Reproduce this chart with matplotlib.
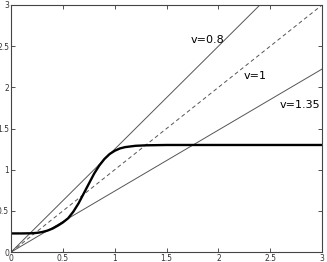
import matplotlib
matplotlib.use("Agg")
import matplotlib.pyplot as plt
import numpy as np

# speed lines y = x / v
speeds = [0.8, 1.0, 1.35]
speed_labels = ["v=0.8", "v=1", "v=1.35"]
label_x = [1.73, 2.24, 2.59]
label_y = [2.58, 2.14, 1.78]

# thick response curve
curve_x = [0.0, 0.1, 0.2, 0.25, 0.3, 0.35, 0.4, 0.45, 0.5, 0.55, 0.6, 0.65,
           0.7, 0.75, 0.8, 0.85, 0.9, 0.95, 1.0, 1.05, 1.1, 1.2, 1.3, 1.5,
           2.0, 3.0]
curve_y = [0.226, 0.226, 0.228, 0.233, 0.243, 0.26, 0.285, 0.32, 0.36, 0.41,
           0.49, 0.59, 0.71, 0.83, 0.95, 1.05, 1.13, 1.19, 1.23, 1.258, 1.274,
           1.29, 1.296, 1.3, 1.3, 1.3]

fig = plt.figure(figsize=(3.27, 2.62), dpi=100)
ax = fig.add_axes([0.034, 0.038, 0.951, 0.943])

xs = np.array([0.0, 3.0])
for v in speeds:
    if v == 1.0:
        ax.plot(xs, xs / v, color="#555555", lw=0.7, dashes=(4, 3))
    else:
        ax.plot(xs, xs / v, color="#555555", lw=0.7)

ax.plot(curve_x, curve_y, color="black", lw=1.7, solid_joinstyle="round")

for txt, tx, ty in zip(speed_labels, label_x, label_y):
    ax.text(tx, ty, txt, fontsize=8, va="center", ha="left")

ax.set_xlim(0, 3)
ax.set_ylim(0, 3)
ax.set_xticks([0, 0.5, 1, 1.5, 2, 2.5, 3])
ax.set_yticks([0, 0.5, 1, 1.5, 2, 2.5, 3])
ax.set_xticklabels(["0", "0.5", "1", "1.5", "2", "2.5", "3"])
ax.set_yticklabels(["0", "0.5", "1", "1.5", "2", "2.5", "3"])
ax.tick_params(direction="in", top=True, right=True, length=3, width=0.6,
               labelsize=5.5, pad=1.5, colors="#333333")
for s in ax.spines.values():
    s.set_linewidth(0.8)
    s.set_color("#444444")

fig.savefig("out.png", dpi=100)
